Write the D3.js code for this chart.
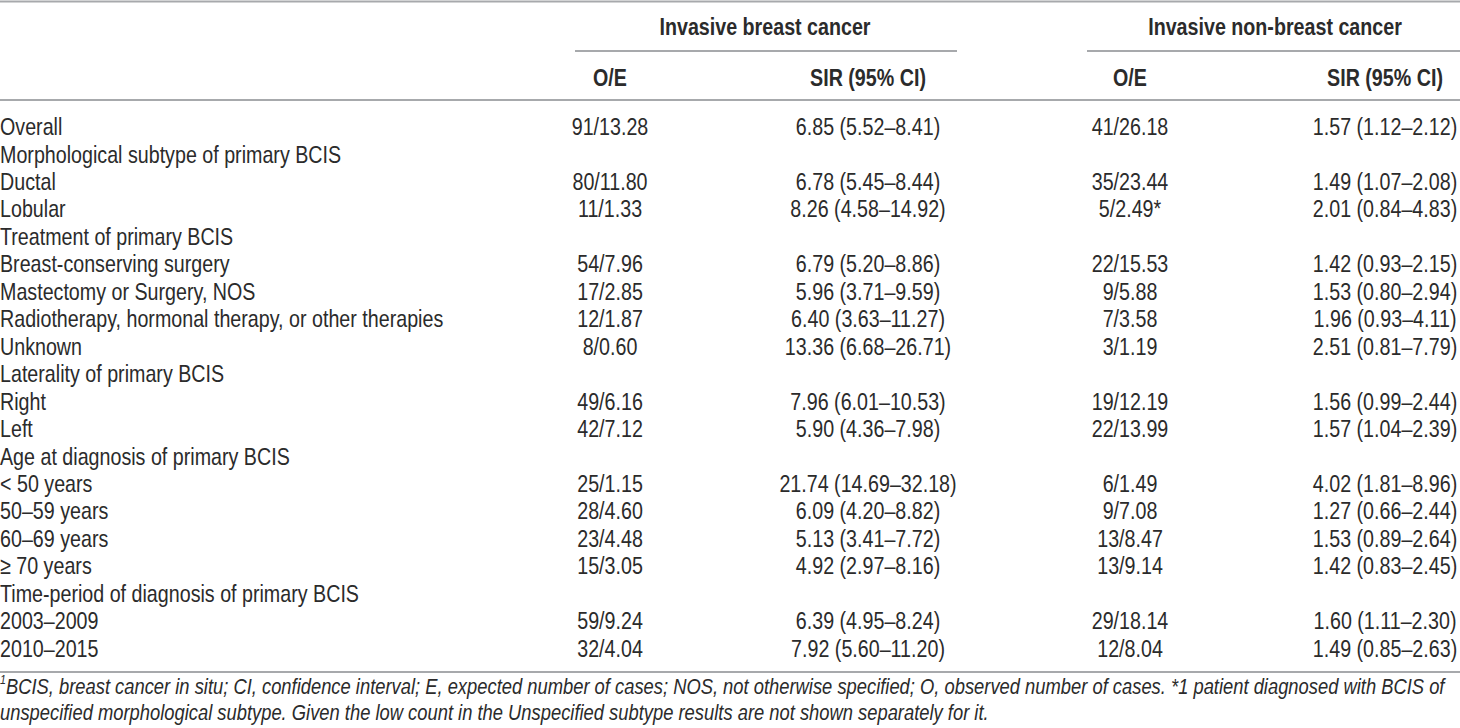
<!DOCTYPE html>
<html>
<head>
<meta charset="utf-8">
<script src="https://cdn.jsdelivr.net/npm/d3@7"></script>
<style>
  body { margin: 0; background: #fff; }
  svg text { font-family: "Liberation Sans", Arial, sans-serif; fill: #2b2b2b; }
</style>
</head>
<body>
<svg id="chart" width="1460" height="728"></svg>
<script>
// table rows (label column)
let rowLabels = ["Overall", "Morphological subtype of primary BCIS", "Ductal", "Lobular",
  "Treatment of primary BCIS", "Breast-conserving surgery", "Mastectomy or Surgery, NOS",
  "Radiotherapy, hormonal therapy, or other therapies", "Unknown", "Laterality of primary BCIS",
  "Right", "Left", "Age at diagnosis of primary BCIS", "< 50 years", "50\u201359 years",
  "60\u201369 years", "\u2265 70 years", "Time-period of diagnosis of primary BCIS",
  "2003\u20132009", "2010\u20132015"];

// invasive breast cancer
let breastOE = ["91/13.28", "", "80/11.80", "11/1.33", "", "54/7.96", "17/2.85", "12/1.87", "8/0.60", "",
  "49/6.16", "42/7.12", "", "25/1.15", "28/4.60", "23/4.48", "15/3.05", "", "59/9.24", "32/4.04"];
let breastSIR = ["6.85 (5.52\u20138.41)", "", "6.78 (5.45\u20138.44)", "8.26 (4.58\u201314.92)", "",
  "6.79 (5.20\u20138.86)", "5.96 (3.71\u20139.59)", "6.40 (3.63\u201311.27)", "13.36 (6.68\u201326.71)", "",
  "7.96 (6.01\u201310.53)", "5.90 (4.36\u20137.98)", "", "21.74 (14.69\u201332.18)", "6.09 (4.20\u20138.82)",
  "5.13 (3.41\u20137.72)", "4.92 (2.97\u20138.16)", "", "6.39 (4.95\u20138.24)", "7.92 (5.60\u201311.20)"];

// invasive non-breast cancer
let nonBreastOE = ["41/26.18", "", "35/23.44", "5/2.49*", "", "22/15.53", "9/5.88", "7/3.58", "3/1.19", "",
  "19/12.19", "22/13.99", "", "6/1.49", "9/7.08", "13/8.47", "13/9.14", "", "29/18.14", "12/8.04"];
let nonBreastSIR = ["1.57 (1.12\u20132.12)", "", "1.49 (1.07\u20132.08)", "2.01 (0.84\u20134.83)", "",
  "1.42 (0.93\u20132.15)", "1.53 (0.80\u20132.94)", "1.96 (0.93\u20134.11)", "2.51 (0.81\u20137.79)", "",
  "1.56 (0.99\u20132.44)", "1.57 (1.04\u20132.39)", "", "4.02 (1.81\u20138.96)", "1.27 (0.66\u20132.44)",
  "1.53 (0.89\u20132.64)", "1.42 (0.83\u20132.45)", "", "1.60 (1.11\u20132.30)", "1.49 (0.85\u20132.63)"];

let groups = ["Invasive breast cancer", "Invasive non-breast cancer"];
let columnKeys = ["bOE", "bSIR", "nOE", "nSIR"];
let columnHeads = ["O/E", "SIR (95% CI)", "O/E", "SIR (95% CI)"];

let footnote = [
  "BCIS, breast cancer in situ; CI, confidence interval; E, expected number of cases; NOS, not otherwise specified; O, observed number of cases. *1 patient diagnosed with BCIS of",
  "unspecified morphological subtype. Given the low count in the Unspecified subtype results are not shown separately for it."
];

let svg = d3.select("#chart");
let fontSize = 24;
let squeeze = 0.82;   // condensed look of the original typeface
let ruleColor = "#a7a9ac";

// place a text at x,y and squeeze it horizontally
function place(sel, fx, fy) {
  return sel.attr("transform", (d, i) => `translate(${fx(d, i)},${fy(d, i)}) scale(${squeeze},1)`);
}

let rows = rowLabels.map((label, i) => ({
  label: label,
  bOE: breastOE[i], bSIR: breastSIR[i], nOE: nonBreastOE[i], nSIR: nonBreastSIR[i]
}));

// scales
let y = d3.scaleBand().domain(d3.range(rows.length)).range([113, 662]);
let x = d3.scaleOrdinal().domain(columnKeys).range([610, 868, 1130, 1385]);
let groupSpan = [[575, 957], [1087, 1460]];
let groupCenter = [765, 1275];

// rules
let rule = (x1, x2, yy) => svg.append("line")
  .attr("x1", x1).attr("x2", x2).attr("y1", yy).attr("y2", yy)
  .attr("stroke", ruleColor).attr("stroke-width", 2);
rule(0, 1460, 1.5);
rule(0, 1460, 100);
rule(0, 1460, 672);
groupSpan.forEach(s => rule(s[0], s[1], 51));

// group headers
place(svg.selectAll(".group").data(groups).enter().append("text"),
    (d, i) => groupCenter[i], () => 27)
  .attr("dy", "0.35em")
  .attr("text-anchor", "middle").attr("font-weight", "bold")
  .attr("font-size", fontSize).text(d => d);

// column headers
place(svg.selectAll(".colhead").data(columnKeys).enter().append("text"),
    d => x(d), () => 78)
  .attr("dy", "0.35em")
  .attr("text-anchor", "middle").attr("font-weight", "bold")
  .attr("font-size", fontSize).text((d, i) => columnHeads[i]);

// body rows
let rowG = svg.selectAll(".row").data(rows).enter().append("g")
  .attr("transform", (d, i) => `translate(0,${y(i) + y.bandwidth() / 2})`);

place(rowG.append("text"), () => 0, () => 0)
  .attr("dy", "0.35em")
  .attr("font-size", fontSize).text(d => d.label);

columnKeys.forEach(k => {
  place(rowG.append("text"), () => x(k), () => 0)
    .attr("dy", "0.35em")
    .attr("text-anchor", "middle").attr("font-size", fontSize)
    .text(d => d[k]);
});

// footnote
let foot = place(svg.selectAll(".foot").data(footnote).enter().append("text"),
    () => 0, (d, i) => 690 + i * 22.5)
  .attr("dy", "0.35em")
  .attr("font-size", 22.4).attr("font-style", "italic");
foot.each(function(d, i) {
  let t = d3.select(this);
  if (i === 0) t.append("tspan").attr("font-size", 13).attr("dy", "-0.45em").text("1");
  t.append("tspan").attr("dy", i === 0 ? "0.45em" : null).text(d);
});
</script>
</body>
</html>
